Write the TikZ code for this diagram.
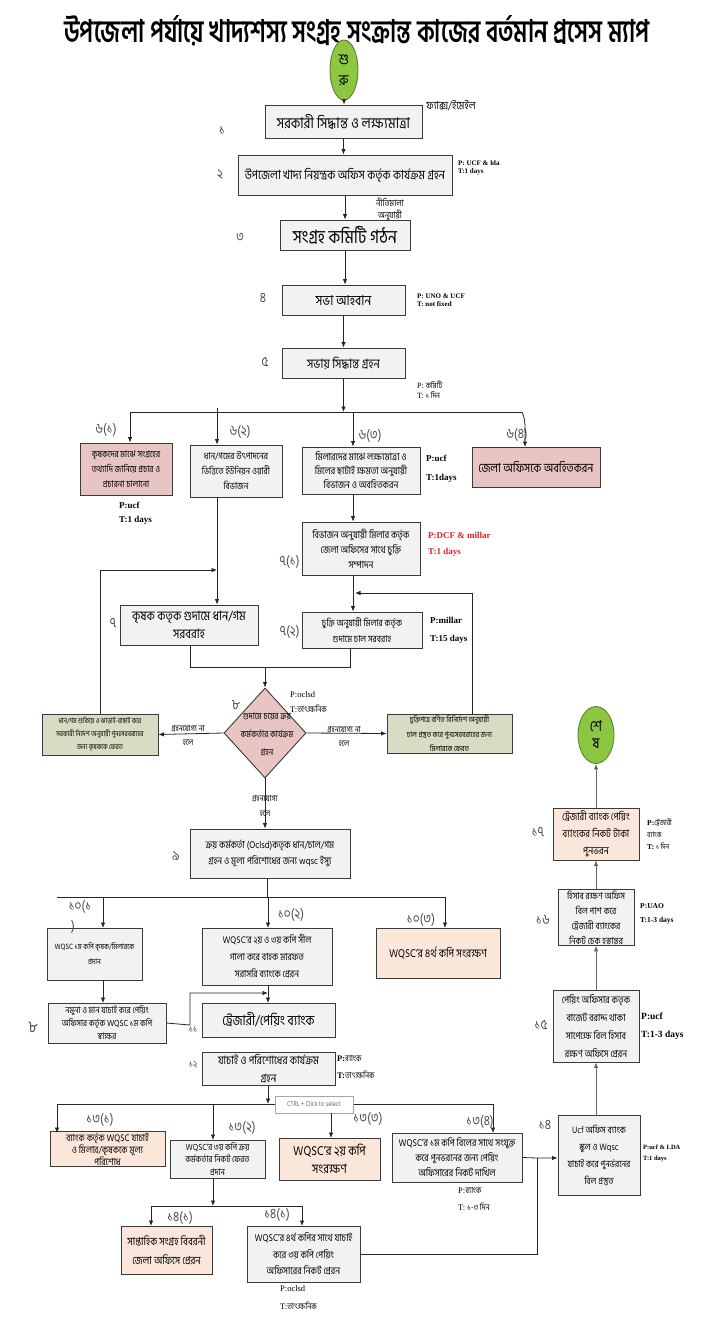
\documentclass[tikz,border=0pt]{standalone}
\usepackage{fontspec}
\usepackage{graphicx}
\setmainfont{Hind Siliguri}[Script=Bengali,FakeStretch=0.85]
\newfontfamily\titlefont{Hind Siliguri}[Script=Bengali]
\newfontfamily\lat{Liberation Serif}
\newcommand\fz[2]{\fontsize{#1}{#2}\selectfont}
\usetikzlibrary{arrows.meta,shapes.geometric,calc}
\definecolor{bxfill}{HTML}{F2F2F2}
\definecolor{bxdraw}{HTML}{3A3A3A}
\definecolor{pinkf}{HTML}{E8C4C3}
\definecolor{peachf}{HTML}{FBE7DA}
\definecolor{olivef}{HTML}{D9DBC3}
\definecolor{greenf}{HTML}{8DC641}
\definecolor{greend}{HTML}{4F7A28}
\definecolor{redt}{HTML}{E0202A}
\definecolor{numc}{HTML}{4A4A4A}
\begin{document}
\begin{tikzpicture}[x=1pt,y=-1pt,
  bx/.style={draw=bxdraw,fill=bxfill,line width=0.9pt,align=center,inner sep=1pt},
  pinkbx/.style={bx,fill=pinkf},
  peachbx/.style={bx,fill=peachf},
  olivebx/.style={bx,fill=olivef},
  term/.style={ellipse,draw=greend,fill=greenf,line width=0.8pt,inner sep=0pt,align=center,font=\fz{15}{15}},
  conn/.style={line width=0.8pt,draw=black!85},
  arr/.style={conn,-{Latex[length=5.5pt,width=4.5pt]}},
  garr/.style={line width=0.8pt,draw=black!60,-{Latex[length=5.5pt,width=4.5pt]}},
  num/.style={text=numc,font=\fz{14}{15}},
  pnote/.style={anchor=west,align=left,inner sep=0pt,font=\lat\bfseries\fz{7}{8.5}},
  lbl/.style={align=center,inner sep=0pt,font=\fz{8.4}{14}}
]
\useasboundingbox[fill=white] (0,0) rectangle (714,1338);

% title
\node[anchor=base,inner sep=0pt] (title) at (357,43)
  {\resizebox{585pt}{27pt}{\titlefont\bfseries উপজেলা পর্যায়ে খাদ্যশস্য সংগ্রহ সংক্রান্ত কাজের বর্তমান প্রসেস ম্যাপ}};

% start
\node[term,minimum width=28pt,minimum height=60pt] (start) at (344,70) {শু\\[6pt]রু};

% main column
\node[bx,minimum width=157pt,minimum height=33pt,font=\fz{15}{17}] (b1) at (343.5,121.5) {সরকারী সিদ্ধান্ত ও লক্ষ্যমাত্রা};
\node[bx,minimum width=214pt,minimum height=40pt,font=\fz{12.7}{14}] (b2) at (345,175) {উপজেলা খাদ্য নিয়ন্ত্রক অফিস কর্তৃক কার্যক্রম গ্রহন};
\node[bx,minimum width=130pt,minimum height=30pt,font=\fz{18.5}{20}] (b3) at (345,235) {সংগ্রহ কমিটি গঠন};
\node[bx,minimum width=123pt,minimum height=30pt,font=\fz{14}{15}] (b4) at (343.5,300) {সভা আহবান};
\node[bx,minimum width=123pt,minimum height=30pt,font=\fz{13}{15}] (b5) at (343.5,363) {সভায় সিদ্ধান্ত গ্রহন};

\node[num] (n1) at (222,130) {১};
\node[num] (n2) at (220,175) {২};
\node[num] (n3) at (240,237) {৩};
\node[num] (n4) at (263,298) {৪};
\node[num] (n5) at (265,362) {৫};
\node[lbl,font=\fz{11}{12}] (fax) at (451,106) {ফ্যাক্স/ইমেইল};
\node[pnote] (p2) at (458,168) {P: UCF \& lda\\T:1 days};
\node[lbl,font=\fz{9}{12}] (niti) at (390,209) {নীতিমালা\\অনুযায়ী};
\node[pnote] (p4) at (417,300) {P: UNO \& UCF\\T: not fixed};
\node[pnote,font=\lat\fz{8}{10}] (p5) at (417,390) {P: {\normalfont কমিটি}\\T: {\normalfont ১ দিন}};

% step 6
\node[pinkbx,minimum width=92pt,minimum height=52pt,font=\fz{9.3}{15}] (b61) at (126,469) {কৃষকদের মাঝে সংগ্রহের\\তথ্যাদি জানিয়ে প্রচার ও\\প্রচারনা চালানো};
\node[bx,minimum width=92pt,minimum height=52pt,font=\fz{9.5}{15}] (b62) at (236,471) {ধান/গমের উৎপাদনের\\ভিত্তিতে ইউনিয়ন ওয়ারী\\বিভাজন};
\node[bx,minimum width=118pt,minimum height=47pt,font=\fz{10}{14}] (b63) at (361,470.5) {মিলারদের মাঝে লক্ষ্যমাত্রা ও\\মিলের ছাটাই ক্ষমতা অনুযায়ী\\বিভাজন ও অবহিতকরন};
\node[pinkbx,minimum width=128pt,minimum height=40pt,font=\fz{12.6}{14}] (b64) at (536,467) {জেলা অফিসকে অবহিতকরন};
\node[num] (n61) at (106,430) {৬(১)};
\node[num] (n62) at (240,432) {৬(২)};
\node[num] (n63) at (370,436) {৬(৩)};
\node[num] (n64) at (517,435) {৬(৪)};
\node[pnote,font=\lat\bfseries\fz{9}{14}] (p61) at (119,513) {P:ucf\\T:1 days};
\node[pnote,font=\lat\bfseries\fz{9}{19}] (p63) at (426,469) {P:ucf\\T:1days};

% step 7
\node[bx,minimum width=118pt,minimum height=53pt,font=\fz{10}{15}] (b71) at (361,548.5) {বিভাজন অনুযায়ী মিলার কর্তৃক\\জেলা অফিসের সাথে চুক্তি\\সম্পাদন};
\node[bx,minimum width=120pt,minimum height=36pt,font=\fz{9.5}{16}] (b72) at (362,630) {চুক্তি অনুযায়ী মিলার কর্তৃক\\গুদামে চাল সরবরাহ};
\node[bx,minimum width=138pt,minimum height=40pt,font=\fz{13}{18}] (b7) at (189,625) {কৃষক কতৃক গুদামে ধান/গম\\সরবরাহ};
\node[num,anchor=east] (n71) at (303,562) {৭(১)};
\node[num,anchor=east] (n72) at (303,632) {৭(২)};
\node[num] (n7) at (113,623) {৭};
\node[pnote,font=\lat\bfseries\fz{9}{16},text=redt] (p71) at (428,544) {P:DCF \& millar\\T:1 days};
\node[pnote,font=\lat\bfseries\fz{9}{18}] (p72) at (430,630) {P:millar\\T:15 days};

% decision 8
\node[diamond,draw=bxdraw,fill=pinkf,line width=0.9pt,minimum width=82pt,minimum height=90pt,inner sep=0pt] (d8) at (265,733) {};
\node[align=center,inner sep=0pt,font=\fz{9.2}{18}] (d8t) at (267,734) {গুদামে চয়ের ক্রয়\\কর্মকর্তার কার্যক্রম\\গ্রহন};
\node[num] (n8) at (236,705) {৮};
\node[pnote,font=\lat\fz{8.5}{15}] (p8) at (290,702) {P:oclsd\\T:{\normalfont তাৎক্ষনিক}};
\node[olivebx,minimum width=116pt,minimum height=41pt,font=\fz{7.2}{13}] (bl) at (100,734.5) {ধান/গম শুকিয়ে ও ঝাড়াই-বাছাই করে\\সরকারী নির্দেশ অনুযায়ী পুনঃসরবরাহের\\জন্য কৃষককে ফেরত};
\node[olivebx,minimum width=125pt,minimum height=39pt,font=\fz{7.8}{14.5}] (br) at (449.5,733.5) {চুক্তিপত্রে বর্ণিত বিনির্দেশ অনুযায়ী\\চাল প্রস্তুত করে পুনঃসরবরাহের জন্য\\মিলারকে ফেরত};
\node[lbl] (lno1) at (188,735) {গ্রহনযোগ্য না\\হলে};
\node[lbl] (lno2) at (344,736) {গ্রহনযোগ্য না\\হলে};
\node[lbl,font=\fz{8.4}{15}] (lyes) at (265,806) {গ্রহনযোগ্য\\হলে};

% step 9
\node[bx,minimum width=160pt,minimum height=49pt,font=\fz{10}{16}] (b9) at (270,853.5) {ক্রয় কর্মকর্তা (Oclsd)কতৃক ধান/চাল/গম\\গ্রহন ও মূল্য পরিশোধের জন্য wqsc ইস্যু};
\node[num] (n9) at (176,856) {৯};

% step 10
\node[bx,minimum width=95pt,minimum height=52pt,font=\fz{7.8}{15}] (b101) at (94.5,954) {WQSC ১ম কপি কৃষক/মিলারকে\\প্রদান};
\node[bx,minimum width=130pt,minimum height=57pt,font=\fz{9.8}{17}] (b102) at (267,956.5) {WQSC'র ২য় ও ৩য় কপি সীল\\গালা করে বাহক মারফত\\সরাসরি ব্যাংকে প্রেরন};
\node[peachbx,minimum width=124pt,minimum height=50pt,font=\fz{11.5}{13}] (b103) at (438,953) {WQSC'র ৪র্থ কপি সংরক্ষণ};
\node[num] (n101) at (80,907) {১০(১};
\node[num] (n101b) at (73,927) {)};
\node[num] (n102) at (291,915) {১০(২)};
\node[num] (n103) at (421,920) {১০(৩)};
\node[bx,minimum width=118pt,minimum height=40pt,font=\fz{9}{13}] (b8) at (107,1023) {নমুনা ও মান যাচাই করে পেয়িং\\অফিসার কর্তৃক WQSC ১ম কপি\\স্বাক্ষর};
\node[num,font=\fz{16}{17}] (n8b) at (33,1027) {৮};
\node[bx,minimum width=133pt,minimum height=34pt,font=\fz{14}{15}] (b11) at (268.5,1020) {ট্রেজারী/পেয়িং ব্যাংক};
\node[num,font=\fz{10}{11}] (n11) at (193,1030) {১১};
\node[bx,minimum width=133pt,minimum height=33pt,font=\fz{11.5}{18}] (b12) at (268.5,1068.5) {যাচাই ও পরিশোধের কার্যক্রম\\গ্রহন};
\node[num,font=\fz{10}{11}] (n12) at (193,1065) {১২};
\node[pnote,font=\lat\bfseries\fz{8.5}{17}] (p12) at (337,1067) {P:{\normalfont ব্যাংক}\\T:{\normalfont তাৎক্ষনিক}};

% step 13
\node[peachbx,minimum width=115pt,minimum height=32pt,font=\fz{9.8}{10.5}] (b131) at (107.5,1149) {ব্যাংক কর্তৃক WQSC যাচাই\\ও মিলার/কৃষককে মূল্য\\পরিশোধ};
\node[bx,minimum width=95pt,minimum height=38pt,font=\fz{9}{12.5}] (b132) at (217.5,1159) {WQSC'র ৩য় কপি ক্রয়\\কর্মকর্তার নিকট ফেরত\\প্রদান};
\node[peachbx,minimum width=101pt,minimum height=42pt,font=\fz{13}{18}] (b133) at (329.5,1159) {WQSC'র ২য় কপি\\সংরক্ষণ};
\node[bx,minimum width=130pt,minimum height=49pt,font=\fz{10}{15}] (b134) at (457,1157.5) {WQSC'র ১ম কপি বিলের সাথে সংযুক্ত\\করে পুনভরনের জন্য পেয়িং\\অফিসারের নিকট দাখিল};
\node[num] (n131) at (100,1120) {১৩(১)};
\node[num] (n132) at (242,1128) {১৩(২)};
\node[num] (n133) at (368,1119) {১৩(৩)};
\node[num] (n134) at (480,1122) {১৩(৪)};
\node[pnote,font=\lat\fz{8.5}{17}] (p134) at (458,1199) {P:{\normalfont ব্যাংক}\\T: {\normalfont ১-৩ দিন}};

% step 14 (bottom)
\node[peachbx,minimum width=91pt,minimum height=48pt,font=\fz{11}{19}] (b141) at (166.5,1250) {সাপ্তাহিক সংগ্রহ বিবরনী\\জেলা অফিসে প্রেরন};
\node[bx,minimum width=113pt,minimum height=56pt,font=\fz{10}{16.5}] (b142) at (303.5,1254) {WQSC'র ৪র্থ কপির সাথে যাচাই\\করে ৩য় কপি পেয়িং\\অফিসারের নিকট প্রেরন};
\node[num] (n141) at (180,1218) {১৪(১)};
\node[num] (n142) at (277,1215) {১৪(১)};
\node[pnote,font=\lat\fz{8.5}{18}] (p142) at (280,1298) {P:oclsd\\T:{\normalfont তাৎক্ষনিক}};

% right column
\node[bx,minimum width=82pt,minimum height=80pt,font=\fz{9.5}{17}] (b14) at (599,1155) {Ucf অফিস ব্যাংক\\স্কুল ও Wqsc\\যাচাই করে পুনর্ভরনের\\বিল প্রস্তুত};
\node[bx,minimum width=86pt,minimum height=72pt,font=\fz{10}{18}] (b15) at (596,1026) {পেয়িং অফিসার কতৃক\\বাজেট বরাদ্দ থাকা\\সাপেক্ষে বিল হিসাব\\রক্ষণ অফিসে প্রেরন};
\node[bx,minimum width=76pt,minimum height=55pt,font=\fz{9.5}{15}] (b16) at (596,917.5) {হিসাব রক্ষণ অফিস\\বিল পাশ করে\\ট্রেজারী ব্যাংকের\\নিকট চেক হস্তান্তর};
\node[peachbx,minimum width=86pt,minimum height=52pt,font=\fz{10.5}{17}] (b17) at (596,834) {ট্রেজারী ব্যাংক পেয়িং\\ব্যাংকের নিকট টাকা\\পুনভরন};
\node[term,minimum width=36pt,minimum height=57pt] (end) at (596,735) {শে\\[2pt]ষ};
\node[num] (n14) at (545,1125) {১৪};
\node[num] (n15) at (541,1025) {১৫};
\node[num] (n16) at (543,920) {১৬};
\node[num] (n17) at (538,832) {১৭};
\node[pnote,font=\lat\bfseries\fz{6.5}{11}] (p14) at (643,1153) {P:ucf \& LDA\\T:1 days};
\node[pnote,font=\lat\bfseries\fz{9.5}{18}] (p15) at (641,1026) {P:ucf\\T:1-3 days};
\node[pnote,font=\lat\bfseries\fz{7.5}{14}] (p16) at (640,914) {P:UAO\\T:1-3 days};
\node[pnote,font=\lat\bfseries\fz{7.5}{12}] (p17) at (647,834) {P:{\normalfont ট্রেজারী}\\{\normalfont ব্যাংক}\\T: {\normalfont ১ দিন}};

% ---------- connectors ----------
\draw[arr] (start.south) -- (start.south |- b1.north);
\draw[arr] (b1.south) -- (b1.south |- b2.north);
\draw[arr] (b2.south) -- (b2.south |- b3.north);
\draw[arr] (b3.south) -- (b3.south |- b4.north);
\draw[arr] (b4.south) -- (b4.south |- b5.north);
\coordinate (j5) at (343.5,412);
\coordinate (h61) at (130,412);
\coordinate (h62) at (217,408);
\coordinate (h63) at (353,412);
\coordinate (h64) at (522,412);
\draw[arr] (b5.south) -- (j5);
\draw[conn] (h61) -- (h64);
\draw[arr] (h61) -- (h61 |- b61.north);
\draw[arr] (h62) -- (h62 |- b62.north);
\draw[arr] (h63) -- (h63 |- b63.north);
\draw[arr] (h64) .. controls (526,420) and (525,430) .. (525,447);
\draw[arr] (h63 |- b63.south) -- (h63 |- b71.north);
\draw[arr] (h63 |- b71.south) -- (h63 |- b72.north);
\coordinate (b62s) at (217,497);
\draw[arr] (b62s) -- (b62s |- b7.north);
% feedback loops
\coordinate (fl) at (100,570);
\draw[arr] (bl.north) -- (fl) -- (217,570);
\coordinate (fr) at (472,593);
\draw[arr] (fr |- br.north) -- (fr) -- (355,593);
% merge to diamond
\coordinate (m8) at (265,667);
\draw[conn] (190,645) -- (190,667) -- (m8);
\draw[conn] (350,648) -- (350,667) -- (m8);
\draw[arr] (m8) -- (d8.north);
\draw[arr] (d8.west) -- (bl.east);
\draw[arr] (d8.east) -- (br.west);
\draw[arr] (d8.south) -- (d8.south |- b9.north);
% step 9 -> 10
\coordinate (j9) at (267,897);
\draw[conn] (b9.south -| j9) -- (j9);
\draw[conn] (57,897) -- (445,897);
\draw[arr] (103,897) -- (103 ,928);
\draw[arr] (268,897) -- (268,928);
\draw[arr] (445,897) -- (445,928);
\draw[arr] (103,980) -- (103,1003);
\coordinate (k8) at (190,1025);
\draw[arr] (b8.east) -- (k8) -- (190,993) -- (268,993);
\draw[arr] (b102.south -| 268,0) -- (268,1003);
% step 12 -> 13
\coordinate (j12) at (268,1104);
\draw[arr] (b12.south -| j12) -- (j12);
\draw[conn] (57,1104) -- (493,1104);
\draw[arr] (57,1104) -- (57,1133);
\draw[arr] (213,1104) -- (213,1140);
\draw[arr] (493,1104) -- (493,1133);
\node[draw=black!35,fill=white,text=black!60,inner sep=2pt,minimum width=78pt,minimum height=17pt,font=\fz{7}{8}] (ctrl) at (314,1104.5) {CTRL + Click to select};
\draw[arr] (331,1113) -- (331,1138);
% 13(2) -> 14(x)
\coordinate (j132) at (213,1206);
\draw[arr] (213,1178) -- (j132);
\draw[conn] (151,1206) -- (302,1206);
\draw[arr] (151,1206) -- (151,1226);
\draw[arr] (302,1206) -- (302,1226);
% to box 14
\coordinate (r14) at (537,1158);
\draw[conn] (b142.east) -- (537,1254) -- (r14);
\draw[arr] (b134.east) -- (r14) -- (r14 -| b14.west);
% right column upward
\draw[garr] (b14.north -| 596,0) -- (b15.south);
\draw[garr] (b15.north) -- (b16.south);
\draw[garr] (b16.north) -- (b17.south);
\draw[garr] (b17.north) -- (end.south);
\end{tikzpicture}
\end{document}
